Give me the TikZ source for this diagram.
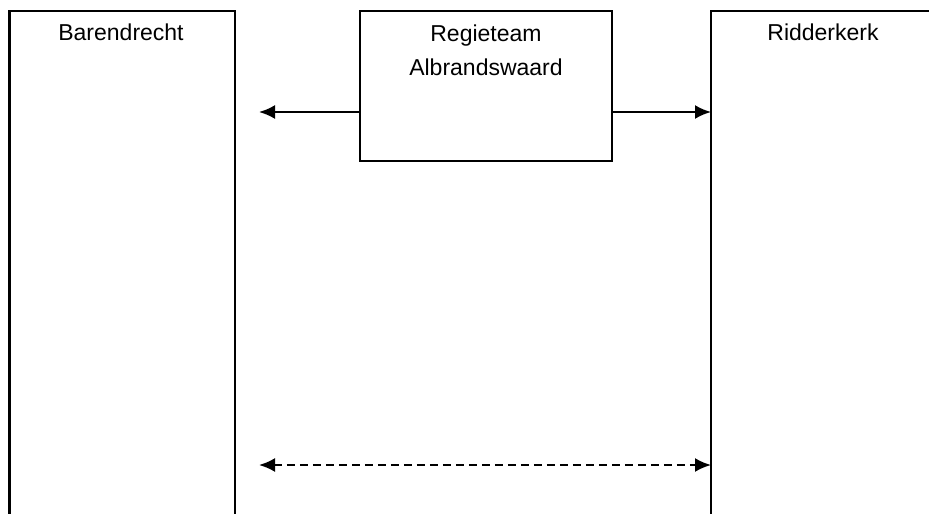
\documentclass[tikz,border=0pt]{standalone}
\usepackage{fontspec}
\setmainfont{Liberation Sans}
\usetikzlibrary{arrows.meta}
\begin{document}
\begin{tikzpicture}[x=1pt,y=-1pt,
  boxline/.style={line width=2.2pt,line cap=rect},
  label/.style={font=\fontsize{23}{34}\selectfont,align=center,inner sep=0pt},
  conn/.style={line width=2.2pt,-{Latex[length=16pt,width=14pt]}},
  dconn/.style={line width=2.2pt,dash pattern=on 8pt off 5pt,{Latex[length=16pt,width=14pt]}-{Latex[length=16pt,width=14pt]}}]
\useasboundingbox (0,0) rectangle (929,514);
\begin{scope}
\clip (0,0) rectangle (929,514);
% left column (open at bottom)
\draw[boxline] (9.5,530) -- (9.5,11) -- (235,11) -- (235,530);
% right column (open at bottom and right)
\draw[boxline] (711,530) -- (711,11) -- (940,11);
\end{scope}
% middle box
\node[draw,line width=2.2pt,minimum width=252pt,minimum height=150pt,inner sep=0pt] (mid) at (486,86) {};
\node[label,anchor=base] (barendrecht) at (121,40) {Barendrecht};
\node[label,anchor=base] (ridderkerk) at (823,40) {Ridderkerk};
\node[label,anchor=north] (regie) at (486,24.5) {Regieteam\\Albrandswaard};
\coordinate (lefttip) at (259,112);
\coordinate (rightin) at (711,112);
\coordinate (dleft) at (259,465);
\coordinate (dright) at (711,465);
\draw[conn] (mid.west |- lefttip) -- (lefttip);
\draw[conn] (mid.east |- rightin) -- (rightin);
\draw[dconn] (dleft) -- (dright);
\end{tikzpicture}
\end{document}
